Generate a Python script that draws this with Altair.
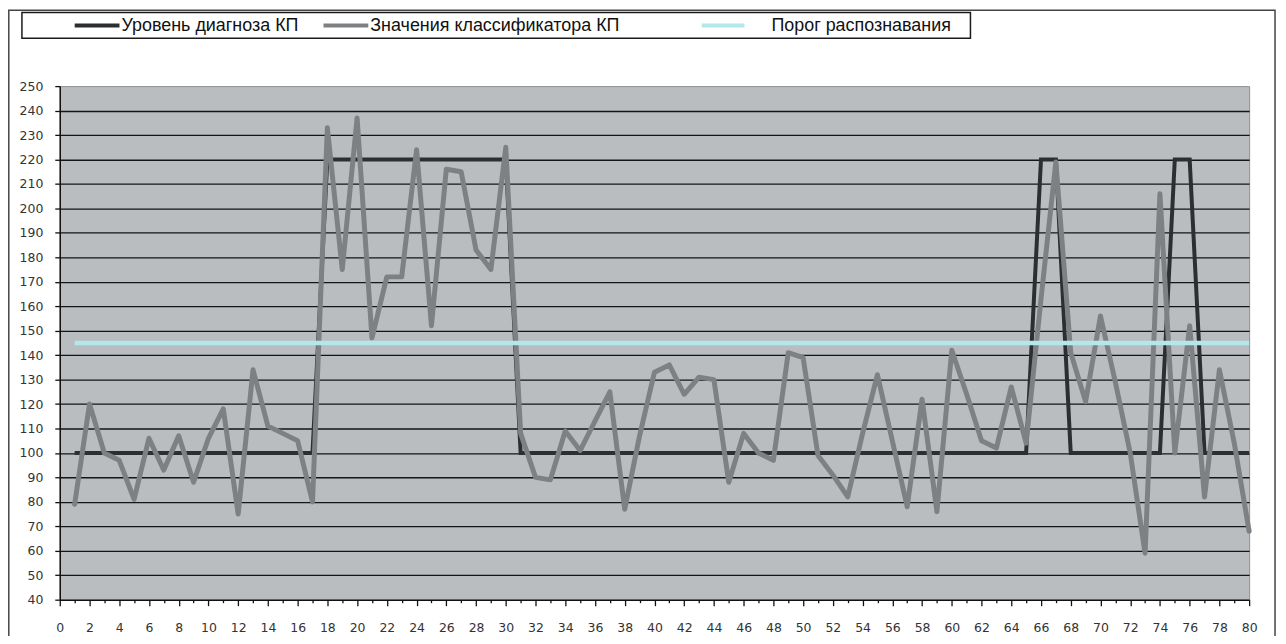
import altair as alt
import pandas as pd

# ---- data ----
x_values = list(range(1, 81))

diagnosis_level = [
    100, 100, 100, 100, 100, 100, 100, 100, 100, 100,
    100, 100, 100, 100, 100, 100, 100, 220, 220, 220,
    220, 220, 220, 220, 220, 220, 220, 220, 220, 220,
    100, 100, 100, 100, 100, 100, 100, 100, 100, 100,
    100, 100, 100, 100, 100, 100, 100, 100, 100, 100,
    100, 100, 100, 100, 100, 100, 100, 100, 100, 100,
    100, 100, 100, 100, 100, 220, 220, 100, 100, 100,
    100, 100, 100, 100, 220, 220, 100, 100, 100, 100,
]

classifier_values = [
    79, 120, 100, 97, 81, 106, 93, 107, 88, 106,
    118, 75, 134, 111, 108, 105, 80, 233, 175, 237,
    147, 172, 172, 224, 152, 216, 215, 183, 175, 225,
    108, 90, 89, 109, 101, 113, 125, 77, 107, 133,
    136, 124, 131, 130, 88, 108, 100, 97, 141, 139,
    99, 91, 82, 108, 132, 105, 78, 122, 76, 142,
    124, 105, 102, 127, 104, 163, 219, 141, 121, 156,
    129, 100, 59, 206, 100, 152, 82, 134, 104, 68,
]

threshold_value = 145

series_names = ["Уровень диагноза КП", "Значения классификатора КП", "Порог распознавания"]
series_colors = ["#2c2f31", "#7e8184", "#b3e8ea"]

x_tick_values = list(range(0, 81))
y_tick_values = list(range(40, 251, 10))

# ---- tables ----
df_diag = pd.DataFrame({"x": x_values, "y": diagnosis_level})
df_cls = pd.DataFrame({"x": x_values, "y": classifier_values})
df_thr = pd.DataFrame({"x": [x_values[0], x_values[-1]], "y": [threshold_value, threshold_value]})
dummy = pd.DataFrame({"k": [0]})

x_scale = alt.Scale(domain=[0, 80], nice=False, zero=False)
y_scale = alt.Scale(domain=[40, 250], nice=False, zero=False)

x_axis = alt.Axis(
    values=x_tick_values,
    labelExpr="datum.value % 2 == 0 ? datum.label : ''",
    labelOverlap=False,
    labelFlush=False,
    grid=False,
    tickSize={"condition": {"test": "datum.value % 2 == 0", "value": 6}, "value": 3},
    labelPadding=16,
    title=None,
)
y_axis = alt.Axis(
    values=y_tick_values,
    grid=True,
    gridColor={"condition": {"test": "datum.value >= 250 || datum.value <= 40", "value": "transparent"},
               "value": "#151515"},
    tickSize=5,
    labelPadding=12,
    title=None,
)

X = alt.X("x:Q", scale=x_scale, axis=x_axis)
Y = alt.Y("y:Q", scale=y_scale, axis=y_axis)

diag_line = alt.Chart(df_diag).mark_line(
    color=series_colors[0], strokeWidth=4, strokeJoin="miter"
).encode(x=X, y=Y)

cls_line = alt.Chart(df_cls).mark_line(
    color=series_colors[1], strokeWidth=5, strokeJoin="round", strokeCap="round"
).encode(x=X, y=Y)

thr_line = alt.Chart(df_thr).mark_line(
    color=series_colors[2], strokeWidth=4.5
).encode(x=X, y=Y)

# ---- decorations: outer frame and legend box ----
frame = alt.Chart(dummy).mark_rect(
    fill="white", fillOpacity=0, stroke="#444444", strokeWidth=1.5
).encode(x=alt.value(-51.2), x2=alt.value(1221), y=alt.value(-76.2), y2=alt.value(600))

legend_box = alt.Chart(dummy).mark_rect(
    fill="white", stroke="#1a1a1a", strokeWidth=1.5
).encode(x=alt.value(-38), x2=alt.value(915), y=alt.value(-74), y2=alt.value(-48))

legend_symbol_x = [15, 265, 645]
legend_symbol_len = [45, 45, 43]
legend_text_gap = [2, 2, 27]
legend_layers = []
for name, color, sx, ln, gap in zip(series_names, series_colors, legend_symbol_x,
                                    legend_symbol_len, legend_text_gap):
    legend_layers.append(
        alt.Chart(dummy).mark_rule(color=color, strokeWidth=4).encode(
            x=alt.value(sx), x2=alt.value(sx + ln), y=alt.value(-61)
        )
    )
    legend_layers.append(
        alt.Chart(dummy).mark_text(
            text=name, align="left", baseline="middle", font="Liberation Sans",
            fontSize=18, color="#111111"
        ).encode(x=alt.value(sx + ln + gap), y=alt.value(-60.5))
    )

chart = alt.layer(
    frame, legend_box, *legend_layers, diag_line, cls_line, thr_line
).properties(
    width=1195,
    height=516,
    autosize=alt.AutoSizeParams(type="none"),
    padding={"left": 52, "top": 77, "right": 29, "bottom": 35},
    background="white",
).configure_view(
    fill="#babdc0", stroke="#8f8f8f", strokeWidth=1
).configure_axis(
    domainColor="#111111",
    domainWidth=1.5,
    tickColor="#111111",
    tickWidth=1.3,
    labelFont="DejaVu Sans",
    labelFontSize=12.5,
    labelColor="#333333",
    gridWidth=1.3,
)

chart.save("out.html", embed_options={"renderer": "svg", "actions": False})
